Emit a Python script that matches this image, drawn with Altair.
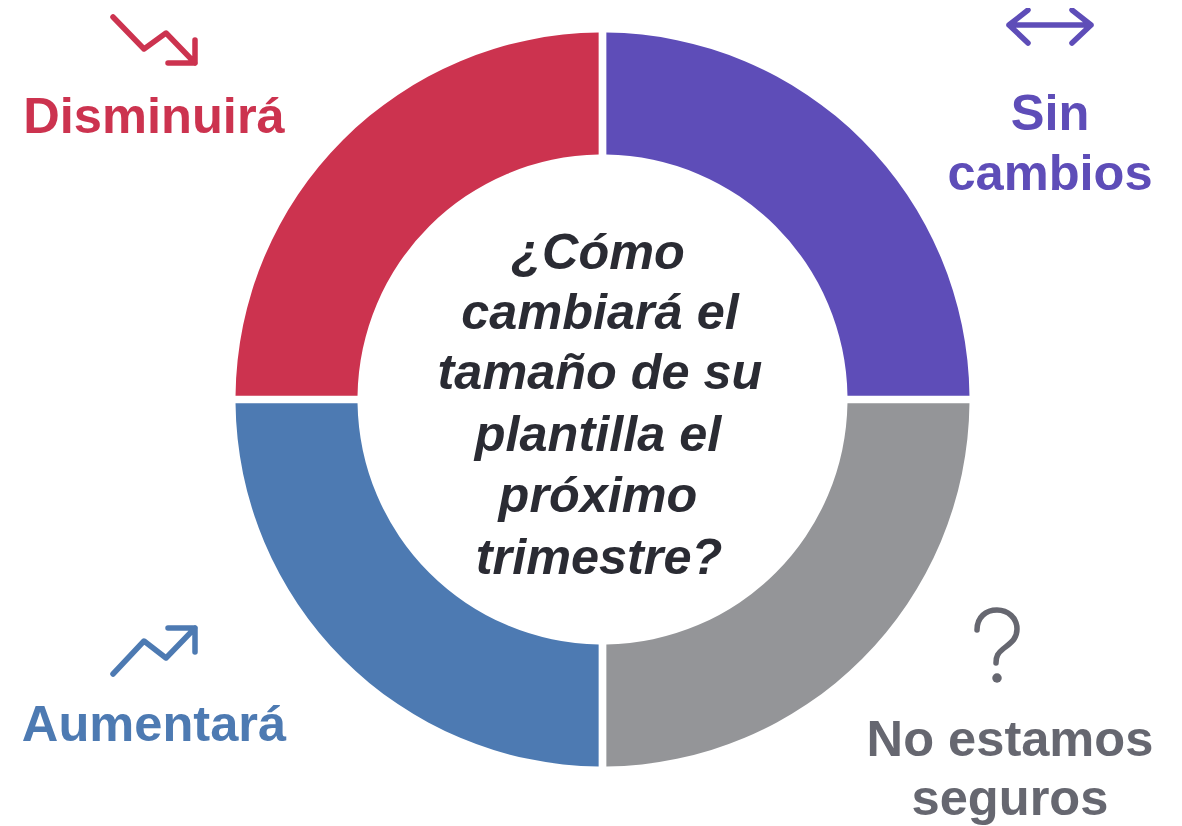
import altair as alt
import pandas as pd

categories = ["Sin cambios", "No estamos seguros", "Aumentará", "Disminuirá"]
shares = [25, 25, 25, 25]
palette = ["#5E4DB8", "#949598", "#4D7AB2", "#CC334F"]

FONT = "Liberation Sans"
OX, OY = 8, 8  # page margin


def px(v):
    return v - OX


def py(v):
    return v - OY


center_lines = ["¿Cómo", "cambiará el", "tamaño de su", "plantilla el", "próximo", "trimestre?"]
center_x = [598, 600, 600, 598, 598, 599]
center_y = [269, 329, 389, 451, 512, 574]

label_lines = ["Disminuirá", "Sin", "cambios", "Aumentará", "No estamos", "seguros"]
label_colors = ["#CC334F", "#5E4DB8", "#5E4DB8", "#4D7AB2", "#666770", "#666770"]
label_x = [154, 1050, 1050, 154, 1010, 1010]
label_y = [133, 130, 190, 741, 756, 815]

icon_paths = [
    "M-41 -23 L-10 9 L12 -7 L41 23 M14 23 L41 23 L41 0",
    "M-41 23 L-10 -10 L12 7 L41 -23 M14 -23 L41 -23 L41 1",
    "M-41 0 L41 0 M-22 -15 L-41 0 L-22 18 M22 -15 L41 0 L22 18",
    "M-20 -2 C-20 -15 -11 -22 0 -22 C11 -22 20 -14 20 -3 C20 8 12 12 6 17 C1 21 -1 24 -1 31",
]
icon_colors = ["#CC334F", "#4D7AB2", "#5E4DB8", "#666770"]
icon_x = [154, 154, 1050, 997]
icon_y = [40, 651, 25, 632]

arc_df = pd.DataFrame({"category": categories, "share": shares, "idx": range(len(shares))})
ring = (
    alt.Chart(arc_df)
    .mark_arc(radius=367, radius2=245, padAngle=0.0175)
    .encode(
        theta=alt.Theta("share:Q", stack=True),
        order=alt.Order("idx:Q"),
        color=alt.Color(
            "category:N",
            scale=alt.Scale(domain=categories, range=palette),
            legend=None,
        ),
        x=alt.value(px(602.5)),
        y=alt.value(py(399.5)),
    )
)

layers = [ring]

for line, x, y in zip(center_lines, center_x, center_y):
    layers.append(
        alt.Chart(pd.DataFrame({"t": [line]}))
        .mark_text(
            font=FONT, fontSize=50.4, fontWeight="bold", fontStyle="italic",
            color="#2A2B33", align="center", baseline="alphabetic",
        )
        .encode(text="t:N", x=alt.value(px(x)), y=alt.value(py(y)))
    )

for line, color, x, y in zip(label_lines, label_colors, label_x, label_y):
    layers.append(
        alt.Chart(pd.DataFrame({"t": [line]}))
        .mark_text(
            font=FONT, fontSize=50.6, fontWeight="bold",
            color=color, align="center", baseline="alphabetic",
        )
        .encode(text="t:N", x=alt.value(px(x)), y=alt.value(py(y)))
    )

for path, color, x, y in zip(icon_paths, icon_colors, icon_x, icon_y):
    layers.append(
        alt.Chart(pd.DataFrame({"k": [0]}))
        .mark_point(
            shape=path, size=4, filled=False, opacity=1, stroke=color,
            strokeWidth=5.5, strokeCap="round", strokeJoin="round",
        )
        .encode(x=alt.value(px(x)), y=alt.value(py(y)))
    )

layers.append(
    alt.Chart(pd.DataFrame({"k": [0]}))
    .mark_point(shape="circle", size=90, filled=True, opacity=1, color="#666770")
    .encode(x=alt.value(px(997)), y=alt.value(py(678)))
)

chart = (
    alt.layer(*layers)
    .properties(
        width=1166,
        height=818,
        padding=0,
        autosize=alt.AutoSizeParams(type="none"),
        background="#FFFFFF",
    )
    .configure_view(stroke=None)
)

chart.save("out.html", embed_options={"renderer": "svg", "actions": False})
